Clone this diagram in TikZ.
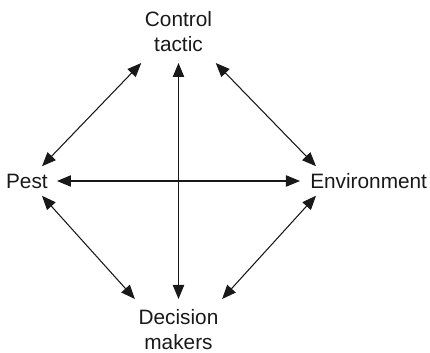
\documentclass[tikz,border=0pt]{standalone}
\usepackage{fontspec}
\setmainfont{Liberation Sans}
\usepackage{tikz}
\usetikzlibrary{arrows.meta, positioning}

\begin{document}
\begin{tikzpicture}[x=0.75pt, y=-0.75pt]
    % Styles
    \tikzstyle{factor} = [font=\fontsize{15.6}{18.75}\selectfont, align=center, text=black!90]
    \tikzstyle{arrow} = [line width=0.8pt, black!90, {Triangle[length=10.5pt, width=8.5pt]}-{Triangle[length=10.5pt, width=8.5pt]}]

    \useasboundingbox (0,0) rectangle (430,353);

    % Nodes
    \node [factor, anchor=south, inner xsep=2.6pt, inner ysep=8.3pt] (ctl) at (178.5,63) {Control\\tactic};
    \node [factor, anchor=north, inner xsep=2.6pt, inner ysep=7.5pt] (dec) at (178.5,299) {Decision\\makers};
    \node [factor, anchor=east, inner xsep=6.75pt, minimum height=21.75pt] (pest) at (57,181) {Pest};
    \node [factor, anchor=west, inner xsep=7.5pt, minimum height=21.75pt] (env) at (300,181) {Environment};

    % Arrows
    \draw [arrow] (ctl.south) -- (dec.north);
    \draw [arrow] (pest.east) -- (env.west);
    \draw [arrow] ([xshift=-11.25pt]pest.north east) -- (ctl.south west);
    \draw [arrow] ([xshift=12pt]env.north west) -- (ctl.south east);
    \draw [arrow] ([xshift=-11.25pt]pest.south east) -- (dec.north west);
    \draw [arrow] ([xshift=12pt]env.south west) -- (dec.north east);
\end{tikzpicture}
\end{document}
